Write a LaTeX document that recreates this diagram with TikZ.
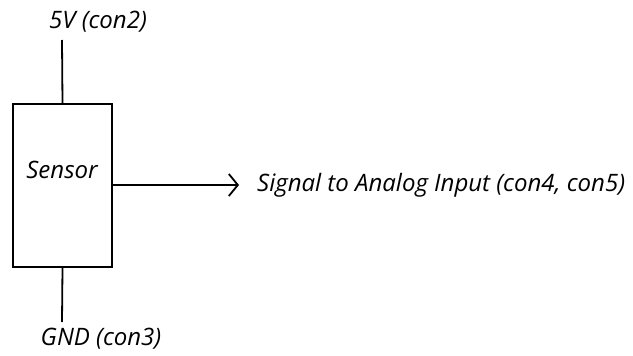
\documentclass[tikz,border=0pt]{standalone}
\usepackage{fontspec}
\setmainfont{Open Sans}
\usetikzlibrary{arrows.meta}
\begin{document}
\begin{tikzpicture}[x=1pt,y=-1pt,
  lbl/.style={font=\itshape\fontsize{24}{28}\selectfont, inner sep=0pt},
  wire/.style={line width=1.8pt},
  box/.style={draw, line width=2.2pt, minimum width=99pt, minimum height=163pt, inner sep=0pt}]
\useasboundingbox (0,0) rectangle (633,356);
\node[box] (s) at (62.5,185.5) {};
\node[lbl] (st) at (62,170) {Sensor};
\node[lbl] (v5) at (98,22) {5V (con2)};
\node[lbl] (gnd) at (101,339) {GND (con3)};
\coordinate (top) at (62,40);
\coordinate (bot) at (62,322);
\coordinate (tip) at (239,185);
\node[lbl, anchor=west] (sig) at (257,185) {Signal to Analog Input (con4, con5)};
\draw[wire] (top) -- (s.north);
\draw[wire] (s.south) -- (bot);
\draw[wire, -{Straight Barb[length=9pt,width=22pt,line width=1.8pt]}] (s.east |- tip) -- (tip);
\end{tikzpicture}
\end{document}
